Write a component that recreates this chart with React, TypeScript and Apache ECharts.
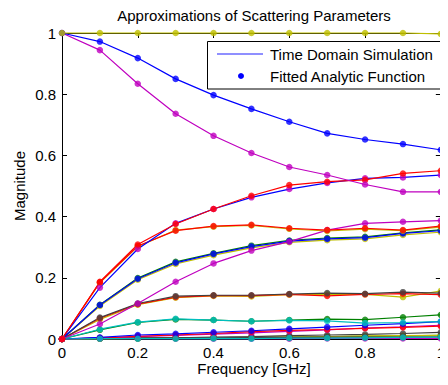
import React, { useEffect, useRef } from "react";
import * as echarts from "echarts";

// Frequency axis [GHz]
const freq = [0, 0.1, 0.2, 0.3, 0.4, 0.5, 0.6, 0.7, 0.8, 0.9, 1.0];
const xTicks = [0, 0.2, 0.4, 0.6, 0.8, 1];
const yTicks = [0, 0.2, 0.4, 0.6, 0.8, 1];

// Magnitudes of the scattering parameters
const unity = [1, 1, 1, 1, 1, 1, 1, 1, 1, 1, 0.997];
const blueDecay = [1, 0.972, 0.918, 0.85, 0.797, 0.752, 0.71, 0.672, 0.652, 0.637, 0.618];
const magentaDecay = [1, 0.944, 0.834, 0.736, 0.664, 0.608, 0.562, 0.536, 0.505, 0.481, 0.481];
const redRise = [0, 0.187, 0.309, 0.376, 0.425, 0.468, 0.503, 0.514, 0.52, 0.541, 0.55];
const purpleRise = [0, 0.168, 0.294, 0.378, 0.425, 0.463, 0.49, 0.51, 0.525, 0.528, 0.536];
const olivePlateau = [0, 0.184, 0.302, 0.356, 0.367, 0.371, 0.36, 0.353, 0.359, 0.354, 0.366];
const redPlateau = [0, 0.185, 0.304, 0.354, 0.369, 0.373, 0.362, 0.356, 0.362, 0.356, 0.369];
const magentaRise = [0, 0.049, 0.116, 0.187, 0.247, 0.289, 0.318, 0.356, 0.378, 0.383, 0.387];
const greenMid = [0, 0.112, 0.199, 0.252, 0.28, 0.305, 0.322, 0.33, 0.334, 0.347, 0.357];
const oliveMid = [0, 0.108, 0.194, 0.245, 0.274, 0.298, 0.316, 0.323, 0.327, 0.34, 0.349];
const blueMid = [0, 0.111, 0.197, 0.249, 0.278, 0.302, 0.32, 0.327, 0.331, 0.345, 0.354];
const grayMid = [0, 0.07, 0.116, 0.14, 0.143, 0.143, 0.147, 0.15, 0.148, 0.153, 0.15];
const redMid = [0, 0.068, 0.114, 0.137, 0.142, 0.142, 0.146, 0.141, 0.146, 0.148, 0.145];
const oliveLow = [0, 0.064, 0.112, 0.135, 0.141, 0.139, 0.145, 0.146, 0.146, 0.137, 0.157];
const greenLow = [0, 0.03, 0.054, 0.064, 0.062, 0.058, 0.062, 0.065, 0.063, 0.071, 0.079];
const cyanLow = [0, 0.032, 0.055, 0.066, 0.062, 0.058, 0.061, 0.059, 0.052, 0.054, 0.057];
const blueLow = [0, 0.005, 0.013, 0.017, 0.022, 0.027, 0.033, 0.039, 0.045, 0.05, 0.057];
const redLow = [0, 0.003, 0.009, 0.013, 0.018, 0.024, 0.028, 0.031, 0.035, 0.038, 0.042];
const magentaLow = [0, 0.003, 0.008, 0.012, 0.016, 0.02, 0.025, 0.03, 0.036, 0.04, 0.045];
const grayLow = [0, 0.002, 0.003, 0.004, 0.006, 0.008, 0.011, 0.013, 0.015, 0.018, 0.022];
const greenTiny = [0, 0.001, 0.002, 0.003, 0.004, 0.005, 0.006, 0.008, 0.009, 0.01, 0.012];
const oliveTiny = [0, 0.001, 0.002, 0.003, 0.004, 0.006, 0.007, 0.008, 0.01, 0.011, 0.012];
const grayTiny = [0, 0.004, 0.004, 0.004, 0.004, 0.005, 0.005, 0.006, 0.006, 0.006, 0.007];
const cyanTiny = [0, 0.001, 0.001, 0.001, 0.002, 0.001, 0.003, 0.003, 0.004, 0.005, 0.006];
const magentaTiny = [0, 0.001, 0.001, 0.001, 0.001, 0.001, 0.001, 0.002, 0.002, 0.002, 0.002];

const C = {
  b: "#0000ff",
  g: "#008000",
  r: "#ff0000",
  c: "#00bfbf",
  m: "#bf00bf",
  y: "#bfbf00",
  k: "#404040",
};

// [values, line colour, dot colour]
const curves: [number[], string, string][] = [
  [magentaTiny, C.m, C.m],
  [greenTiny, C.g, C.g],
  [oliveTiny, C.y, C.y],
  [grayTiny, C.k, C.k],
  [grayLow, C.k, C.k],
  [magentaLow, C.m, C.m],
  [redLow, C.r, C.r],
  [blueLow, C.b, C.b],
  [greenLow, C.g, C.g],
  [cyanLow, C.c, C.c],
  [cyanTiny, C.c, C.c],
  [oliveLow, C.y, C.y],
  [redMid, C.r, C.r],
  [grayMid, C.k, C.k],
  [oliveMid, C.y, C.y],
  [greenMid, C.g, C.g],
  [blueMid, C.b, C.b],
  [magentaRise, C.m, C.m],
  [olivePlateau, C.y, C.y],
  [redPlateau, C.r, C.r],
  [purpleRise, C.b, C.m],
  [redRise, C.r, C.r],
  [magentaDecay, C.m, C.m],
  [blueDecay, C.b, C.b],
  [unity, C.y, C.y],
];

const FONT = "'Liberation Sans', Arial, Helvetica, sans-serif";
const FS = 15;

export default function App() {
  const ref = useRef<HTMLDivElement>(null);
  useEffect(() => {
    if (!ref.current) return;
    const chart = echarts.init(ref.current, undefined, { renderer: "svg" });
    const pair = (vals: number[]) => freq.map((f, i) => [f, vals[i]]);
    const lineSeries = curves.map(([vals, lc]) => ({
      type: "line",
      data: pair(vals),
      showSymbol: false,
      symbol: "none",
      clip: false,
      lineStyle: { color: lc, width: 1.2 },
      silent: true,
      z: 2,
    }));
    const dotSeries = curves.map(([vals, , dc]) => ({
      type: "scatter",
      data: pair(vals),
      symbol: "circle",
      symbolSize: 6.5,
      clip: false,
      itemStyle: { color: dc },
      silent: true,
      z: 3,
    }));
    const fmt = (v: number) => String(+v.toFixed(1));
    const axisCommon = {
      min: 0,
      max: 1,
      interval: 0.2,
      splitLine: { show: false },
      axisLine: { show: true, onZero: false, lineStyle: { color: "#000", width: 1 } },
      axisTick: { show: true, inside: true, length: 5, lineStyle: { color: "#000" } },
    };
    chart.setOption({
      animation: false,
      grid: { left: 62, right: 2, top: 33, bottom: 46, containLabel: false },
      xAxis: [
        {
          ...axisCommon,
          type: "value",
          position: "bottom",
          axisLabel: {
            color: "#000",
            fontSize: FS,
            fontFamily: FONT,
            margin: 6,
            formatter: fmt,
            customValues: xTicks,
          },
        },
        {
          ...axisCommon,
          type: "value",
          position: "top",
          axisLabel: { show: false },
        },
      ],
      yAxis: [
        {
          ...axisCommon,
          type: "value",
          position: "left",
          axisLabel: {
            color: "#000",
            fontSize: FS,
            fontFamily: FONT,
            margin: 6,
            formatter: fmt,
            customValues: yTicks,
          },
        },
        {
          ...axisCommon,
          type: "value",
          position: "right",
          axisLabel: { show: false },
        },
      ],
      series: [...lineSeries, ...dotSeries],
      graphic: [
        {
          type: "text",
          x: 254,
          y: 15,
          style: {
            text: "Approximations of Scattering Parameters",
            fill: "#000",
            font: `${FS}px ${FONT}`,
            textAlign: "center",
            textVerticalAlign: "middle",
          },
        },
        {
          type: "text",
          x: 254,
          y: 368,
          style: {
            text: "Frequency [GHz]",
            fill: "#000",
            font: `${FS}px ${FONT}`,
            textAlign: "center",
            textVerticalAlign: "middle",
          },
        },
        {
          type: "text",
          x: 19,
          y: 186,
          rotation: Math.PI / 2,
          style: {
            text: "Magnitude",
            fill: "#000",
            font: `${FS}px ${FONT}`,
            textAlign: "center",
            textVerticalAlign: "middle",
          },
        },
        {
          type: "group",
          z: 100,
          children: [
            {
              type: "rect",
              shape: { x: 207.5, y: 41.5, width: 233, height: 47.5 },
              style: { fill: "#fff", stroke: "#000", lineWidth: 1 },
            },
            {
              type: "line",
              shape: { x1: 217, y1: 54, x2: 263, y2: 54 },
              style: { stroke: "#6a6aff", lineWidth: 1.5 },
            },
            {
              type: "text",
              x: 270,
              y: 54,
              style: {
                text: "Time Domain Simulation",
                fill: "#000",
                font: `${FS}px ${FONT}`,
                textAlign: "left",
                textVerticalAlign: "middle",
              },
            },
            {
              type: "circle",
              shape: { cx: 241, cy: 76, r: 3 },
              style: { fill: "#0000ff" },
            },
            {
              type: "text",
              x: 270,
              y: 76,
              style: {
                text: "Fitted Analytic Function",
                fill: "#000",
                font: `${FS}px ${FONT}`,
                textAlign: "left",
                textVerticalAlign: "middle",
              },
            },
          ],
        },
      ],
    });
    return () => chart.dispose();
  }, []);
  return <div ref={ref} style={{ width: 448, height: 385, margin: -8 }} />;
}
